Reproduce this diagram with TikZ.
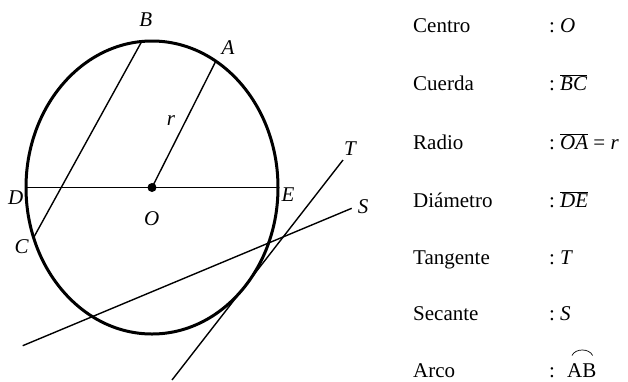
\documentclass[tikz,border=0pt]{standalone}
\usepackage{fontspec}
\setmainfont{Liberation Serif}
\begin{document}
\begin{tikzpicture}[x=1pt,y=-1pt,
  circ/.style={line width=3pt},
  seg/.style={line width=1.4pt},
  lbl/.style={font=\fontsize{21}{25}\selectfont\itshape, inner sep=0pt},
  item/.style={anchor=base west, font=\fontsize{21}{25}\selectfont, inner sep=0pt}]
\useasboundingbox (0,0) rectangle (628,381);
% points
\coordinate (O) at (152,187.5);
\coordinate (B) at (141.7,41.5);
\coordinate (A) at (215.8,61.2);
\coordinate (C) at (33.6,237.6);
\coordinate (D) at (26,187.5);
\coordinate (E) at (278,187.5);
\coordinate (T1) at (172,380);
\coordinate (T2) at (343,160);
\coordinate (S1) at (22.7,345.7);
\coordinate (S2) at (351.7,208.3);
% circle
\draw[circ] (O) ellipse [x radius=126pt, y radius=146.5pt];
% segments
\draw[seg] (D) -- (E);
\draw[seg] (B) -- (C);
\draw[seg] (O) -- (A);
\draw[seg] (T1) -- (T2);
\draw[seg] (S1) -- (S2);
\fill (O) circle [radius=4.5pt];
% labels
\node[lbl] (lB) at (145.7,20) {B};
\node[lbl] (lA) at (228,47.5) {A};
\node[lbl] (lr) at (171,121) {r};
\node[lbl] (lD) at (15.7,198) {D};
\node[lbl] (lE) at (288,195) {E};
\node[lbl] (lO) at (151.7,219) {O};
\node[lbl] (lC) at (21.7,247) {C};
\node[lbl] (lT) at (350,149) {T};
\node[lbl] (lS) at (363,207) {S};
% legend
\node[item] (n1) at (413,32) {Centro};
\node[item] (c1) at (549,32) {:};
\node[item] (v1) at (560,32) {\itshape O};
\node[item] (n2) at (413,90) {Cuerda};
\node[item] (c2) at (549,90) {:};
\node[item] (v2) at (560,90) {$\overline{\mbox{\itshape BC}}$};
\node[item] (n3) at (413,149) {Radio};
\node[item] (c3) at (549,149) {:};
\node[item] (v3) at (560,149) {$\overline{\mbox{\itshape OA}}$ = \itshape r};
\node[item] (n4) at (413,207) {Diámetro};
\node[item] (c4) at (549,207) {:};
\node[item] (v4) at (560,207) {$\overline{\mbox{\itshape DE}}$};
\node[item] (n5) at (413,264) {Tangente};
\node[item] (c5) at (549,264) {:};
\node[item] (v5) at (560,264) {\itshape T};
\node[item] (n6) at (413,320) {Secante};
\node[item] (c6) at (549,320) {:};
\node[item] (v6) at (560,320) {\itshape S};
\node[item] (n7) at (413,377) {Arco};
\node[item] (c7) at (549,377) {:};
\node[item] (v7) at (567,377) {AB};
\draw[line width=0.7pt] ([xshift=5pt,yshift=7.5pt]v7.north west) to[bend left=65] ([xshift=-4pt,yshift=7.5pt]v7.north east);
\end{tikzpicture}
\end{document}
